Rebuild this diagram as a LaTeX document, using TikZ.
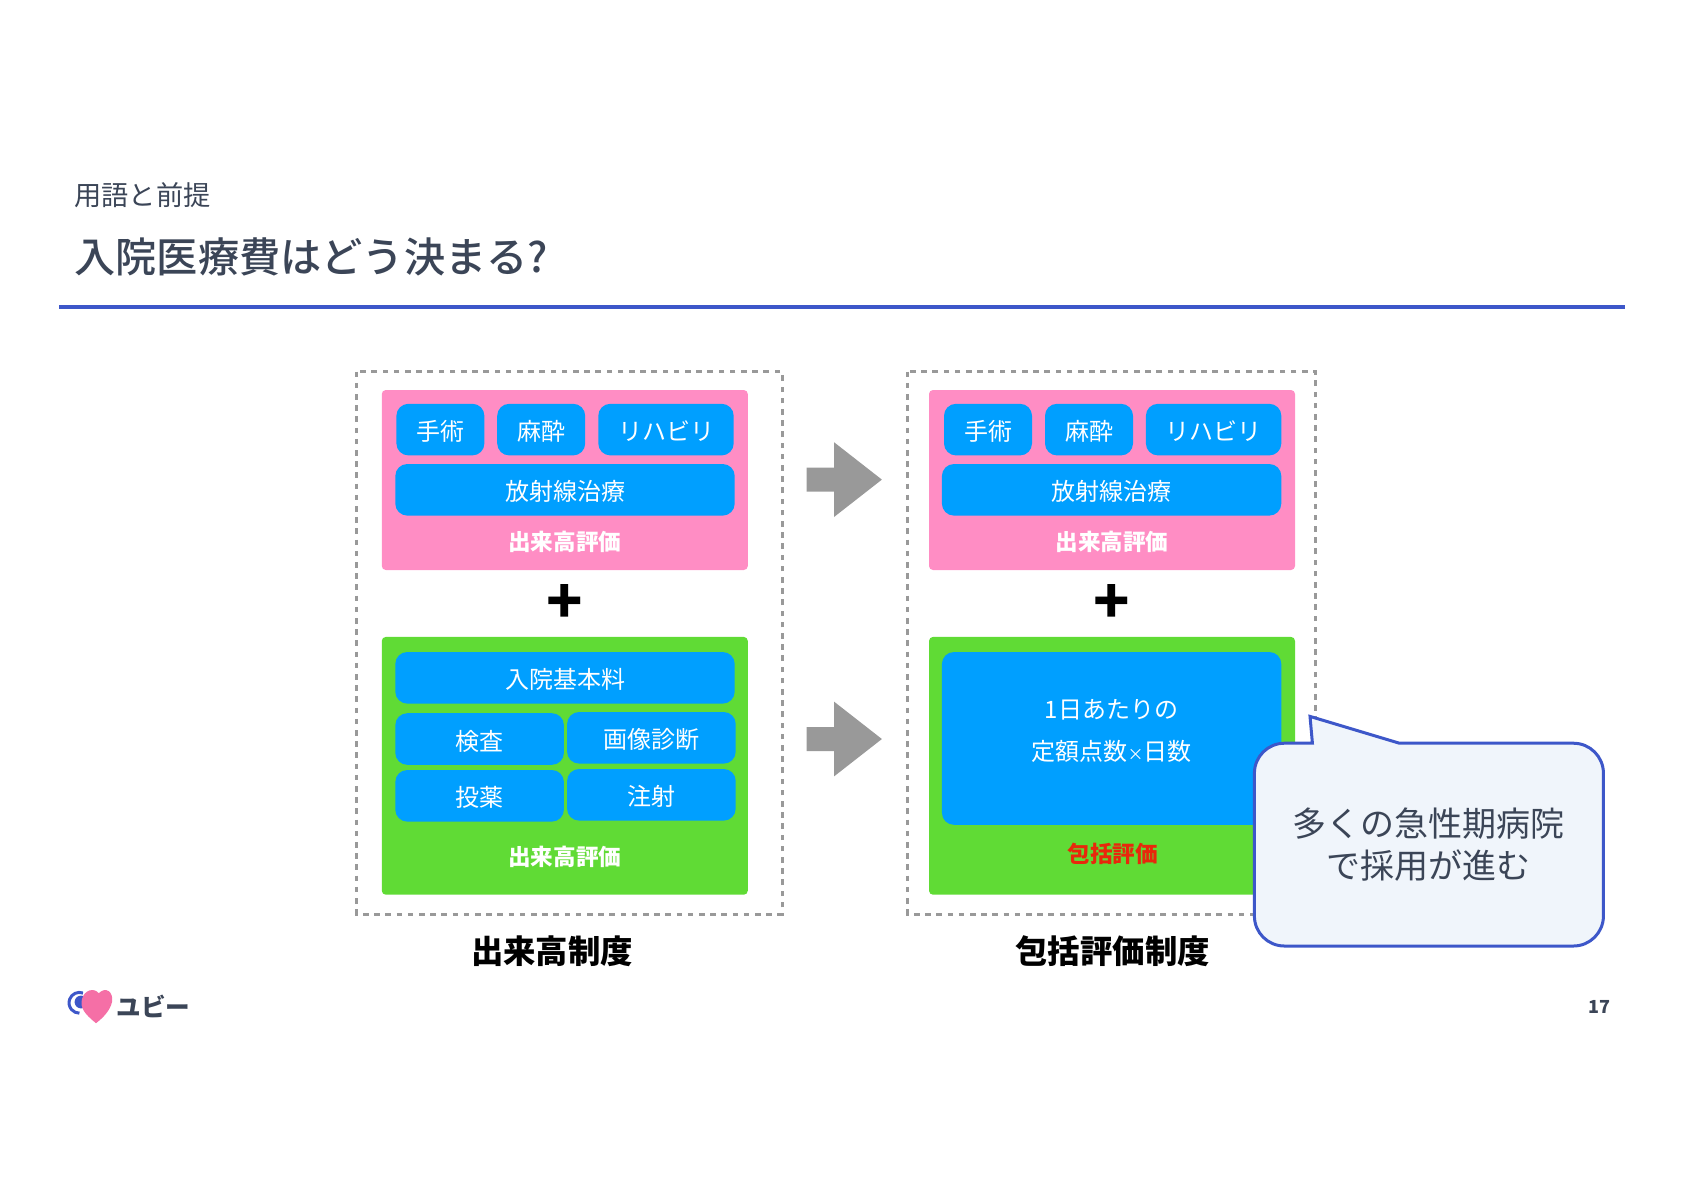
\documentclass[tikz,border=0pt]{standalone}
\usepackage{fontspec}
\usepackage{tikz}
\usetikzlibrary{shapes.arrows}
\setmainfont{Noto Sans CJK JP}
\newfontfamily\mediumfont{Noto Sans CJK JP Medium}
\definecolor{slateink}{HTML}{3B4557}
\definecolor{rulecolor}{HTML}{3D57C9}
\definecolor{pinkpanel}{HTML}{FF8DC4}
\definecolor{greenpanel}{HTML}{60DB35}
\definecolor{bluecell}{HTML}{009FFF}
\definecolor{grayline}{HTML}{999999}
\definecolor{bubblefill}{HTML}{F0F5FB}
\definecolor{redlabel}{HTML}{E8280C}
\definecolor{heartpink}{HTML}{F56FA6}
\tikzset{
  panel/.style={rectangle, rounded corners=2pt, inner sep=0pt, minimum width=183pt},
  bluecellbox/.style={rectangle, rounded corners=6pt, fill=bluecell, text=white, inner sep=0pt,
                      minimum height=25.8pt, text height=12pt, text depth=1pt,
                      font=\fontsize{12}{14}\selectfont},
  paneltitle/.style={font=\fontsize{11.3}{13}\selectfont\bfseries, text=white, inner sep=0pt},
  plussign/.style={font=\fontsize{30}{30}\selectfont\bfseries, text=black, inner sep=0pt},
  caption/.style={font=\fontsize{16.2}{18}\selectfont\bfseries, text=black, inner sep=0pt},
  frame/.style={draw=grayline, line width=1.5pt, dash pattern=on 2.8pt off 2.8pt},
  bigarrow/.style={shape=single arrow, fill=grayline, inner sep=0pt, text height=11.6pt, text depth=0pt,
                   minimum height=37.6pt, minimum width=37pt, single arrow head extend=12.7pt,
                   single arrow tip angle=76, single arrow head indent=0pt},
  bubbletext/.style={font=\fontsize{17}{20}\selectfont, text=slateink, inner sep=0pt},
}
\begin{document}
\begin{tikzpicture}[x=1pt, y=-1pt]
    \useasboundingbox (0,0) rectangle (842,595);
    % heading
    \node[anchor=west, inner sep=0pt, text=slateink, font=\fontsize{13.6}{16}\selectfont] (subhead) at (37,97.7) {用語と前提};
    \node[anchor=west, inner sep=0pt, text=slateink, font=\fontsize{20.6}{24}\selectfont\mediumfont] (headline) at (37,128.4) {入院医療費はどう決まる?};
    \draw[rulecolor, line width=2pt] (29.5,153.6) -- (812.5,153.6);
    % left column
    \draw[frame] (178.3,185.8) rectangle (391,457);
    \node[panel, fill=pinkpanel, minimum height=90pt] (pinkL) at (282.4,240) {};
    \node[bluecellbox, minimum width=44pt] (surgL) at (220.2,214.8) {手術};
    \node[bluecellbox, minimum width=44pt] (anesL) at (270.6,214.8) {麻酔};
    \node[bluecellbox, minimum width=67.7pt] (rehabL) at (333,214.8) {リハビリ};
    \node[bluecellbox, minimum width=169.7pt] (radioL) at (282.5,244.9) {放射線治療};
    \node[paneltitle] (feeL) at (282.4,270.9) {出来高評価};
    \node[plussign] (plusL) at (282.3,302) {+};
    \node[panel, fill=greenpanel, minimum height=128.9pt] (greenL) at (282.4,382.9) {};
    \node[bluecellbox, minimum width=169.7pt] (baseL) at (282.5,338.9) {入院基本料};
    \node[bluecellbox, minimum width=84.3pt] (examL) at (239.8,369.5) {検査};
    \node[bluecellbox, minimum width=84.3pt] (imageL) at (325.7,368.9) {画像診断};
    \node[bluecellbox, minimum width=84.3pt] (drugL) at (239.8,397.9) {投薬};
    \node[bluecellbox, minimum width=84.3pt] (injectL) at (325.7,397.4) {注射};
    \node[paneltitle] (feeLb) at (282.4,428.3) {出来高評価};
    \node[caption] (capL) at (276,475.4) {出来高制度};
    % arrows
    \node[bigarrow] (arrowA) at (418.3,239.8) {};
    \node[bigarrow] (arrowB) at (418.3,369.5) {};
    % right column
    \draw[frame] (453.8,185.8) rectangle (657.8,457);
    \node[panel, fill=pinkpanel, minimum height=90pt] (pinkR) at (556,240) {};
    \node[bluecellbox, minimum width=44pt] (surgR) at (494,214.8) {手術};
    \node[bluecellbox, minimum width=44pt] (anesR) at (544.5,214.8) {麻酔};
    \node[bluecellbox, minimum width=67.7pt] (rehabR) at (606.8,214.8) {リハビリ};
    \node[bluecellbox, minimum width=169.7pt] (radioR) at (555.8,244.9) {放射線治療};
    \node[paneltitle] (feeR) at (556,270.9) {出来高評価};
    \node[plussign] (plusR) at (556,302) {+};
    \node[panel, fill=greenpanel, minimum height=128.9pt] (greenR) at (556,382.9) {};
    \node[bluecellbox, minimum width=169.7pt, minimum height=86.4pt] (flatR) at (555.8,369.2) {};
    \node[inner sep=0pt, text=white, font=\fontsize{12}{14}\selectfont] (flatA) at (555.8,354.8) {1日あたりの};
    \node[inner sep=0pt, text=white, font=\fontsize{12}{14}\selectfont] (flatB) at (555.8,375.8) {定額点数{\fontsize{8}{14}\selectfont ×}日数};
    \node[paneltitle, text=redlabel] (bundleR) at (556.3,426.9) {包括評価};
    \node[caption] (capR) at (556.3,475.4) {包括評価制度};
    % speech bubble
    \draw[fill=bubblefill, draw=rulecolor, line width=1.5pt, line join=miter]
      (699.7,371.6) -- (786.7,371.6) .. controls (795,371.6) and (801.7,378.3) .. (801.7,386.6)
      -- (801.7,458) .. controls (801.7,466.3) and (795,473) .. (786.7,473)
      -- (642.2,473) .. controls (633.9,473) and (627.2,466.3) .. (627.2,458)
      -- (627.2,386.6) .. controls (627.2,378.3) and (633.9,371.6) .. (642.2,371.6)
      -- (656.2,371.6) -- (655,358.2) -- cycle;
    \node[bubbletext] (bubbleA) at (714.2,411.6) {多くの急性期病院};
    \node[bubbletext] (bubbleB) at (714.2,432.6) {で採用が進む};
    % logo
    \draw[rulecolor, line width=1.5pt] (41.5,496.5) arc[start angle=-70, end angle=-270, radius=5.2];
    \fill[rulecolor] (40.5,501) circle (3.2pt);
    \fill[heartpink] (48,511.6) .. controls (42.4,507) and (39.9,504) .. (41,499.5)
      .. controls (42.2,495) and (46.9,493.6) .. (49.4,496.6)
      .. controls (52.9,493) and (56.9,496) .. (56,501)
      .. controls (55.1,505) and (52,508.5) .. (48,511.6) -- cycle;
    \node[anchor=west, inner sep=0pt, text=slateink, font=\fontsize{12.3}{14}\selectfont\bfseries] (logotext) at (58,503) {ユビー};
    \node[inner sep=0pt, text=slateink, font=\fontsize{9}{11}\selectfont\bfseries] (pagenum) at (799.6,503.4) {17};
\end{tikzpicture}
\end{document}
